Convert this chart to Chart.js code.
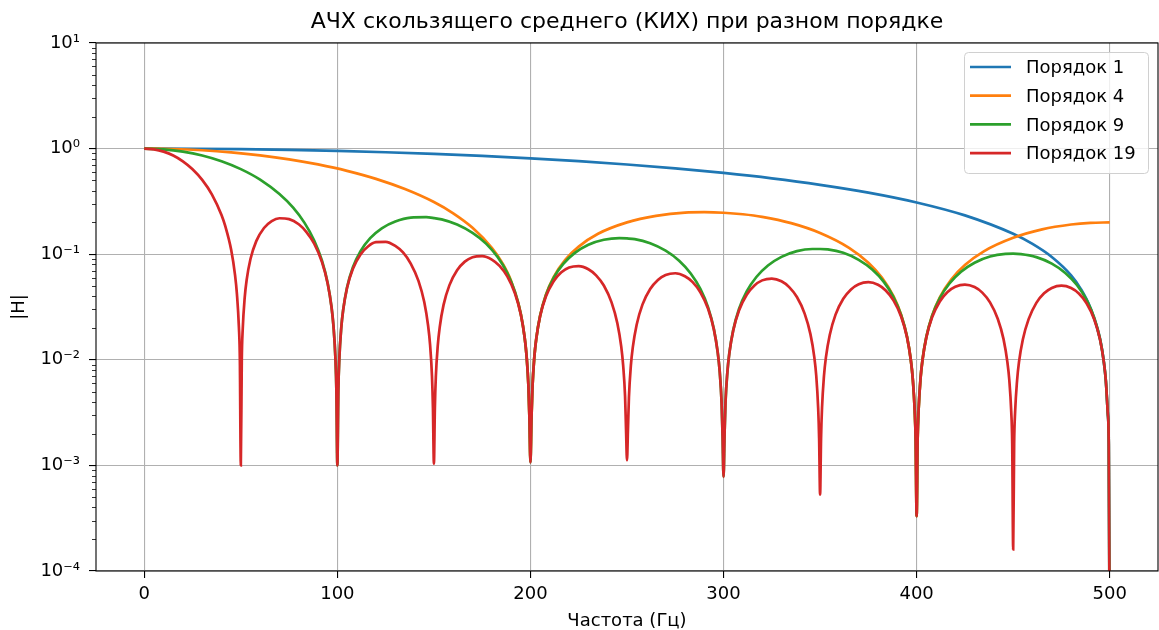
<!DOCTYPE html>
<html>
<head>
<meta charset="utf-8">
<script src="https://cdn.jsdelivr.net/npm/chart.js@4"></script>
<style>
  html, body { margin: 0; padding: 0; background: #fff; }
  #wrap { width: 1159px; height: 630px; }
</style>
</head>
<body>
<div id="wrap"><canvas id="chart" width="1159" height="630"></canvas></div>
<script>
const seriesLabels = ['Порядок 1', 'Порядок 4', 'Порядок 9', 'Порядок 19'];
const seriesColors = ['#1f77b4', '#ff7f0e', '#2ca02c', '#d62728'];
const xTicks = [0, 100, 200, 300, 400, 500];
const yTicks = [1e-4, 1e-3, 1e-2, 1e-1, 1, 10];

// Порядок 1
const freq1 = [0, 25, 50, 75, 100, 125, 150, 175, 200, 225, 250, 275, 300, 325, 350, 375, 400, 425, 450, 460,
  470, 480, 485, 490, 495, 497, 498, 499, 499.5, 500];
const mag1 = [1.0, 0.997, 0.988, 0.972, 0.951, 0.924, 0.891, 0.853, 0.809, 0.760, 0.707, 0.649, 0.588, 0.523, 0.454, 0.383, 0.309, 0.233, 0.156, 0.125,
  0.094, 0.063, 0.047, 0.031, 0.0157, 0.0094, 0.0063, 0.0031, 0.0016, 0.00001];

// Порядок 4
const freq4 = [0, 15, 30, 45, 60, 75, 90, 105, 120, 135, 150, 160, 170, 180, 185, 190, 195, 197, 198, 199, 199.5, 200,
  200.5, 201, 202, 203, 205, 208, 212, 218, 225, 235, 250, 265, 280, 290, 300, 310, 320, 335, 350, 365,
  375, 382, 388, 392, 395, 397, 398, 399, 399.5, 400,
  400.5, 401, 402, 403, 405, 408, 412, 418, 425, 435, 450, 465, 480, 490, 500];
const mag4 = [1.0, 0.991, 0.965, 0.922, 0.864, 0.792, 0.708, 0.616, 0.517, 0.414, 0.312, 0.244, 0.178, 0.115, 0.085, 0.0557, 0.0273, 0.0162, 0.0108, 0.0054, 0.0027, 0.0011,
  0.0027, 0.0053, 0.0106, 0.0158, 0.0262, 0.0413, 0.0608, 0.0885, 0.118, 0.156, 0.2, 0.231, 0.248, 0.25, 0.247, 0.239, 0.226, 0.197, 0.159, 0.115,
  0.0831, 0.06, 0.04, 0.0266, 0.0166, 0.0099, 0.0066, 0.0033, 0.0017, 0.00033,
  0.0017, 0.0033, 0.0066, 0.0099, 0.0164, 0.0262, 0.0391, 0.0579, 0.079, 0.107, 0.143, 0.172, 0.191, 0.198, 0.2];

// Порядок 9
const freq9 = [0, 10, 20, 30, 40, 50, 60, 70, 77, 83, 88, 92, 95, 97, 98, 99, 99.5, 100,
  100.5, 101, 102, 103, 105, 108, 112, 117, 123, 130, 138, 146, 150, 154, 162, 170, 177, 183, 188, 192, 195, 197, 198, 199, 199.5, 200,
  200.5, 201, 202, 203, 205, 208, 212, 217, 223, 230, 238, 246, 250, 254, 262, 270, 277, 283, 288, 292, 295, 297, 298, 299, 299.5, 300,
  300.5, 301, 302, 303, 305, 308, 312, 317, 323, 330, 338, 346, 350, 354, 362, 370, 377, 383, 388, 392, 395, 397, 398, 399, 399.5, 400,
  400.5, 401, 402, 403, 405, 408, 412, 417, 423, 430, 438, 446, 450, 454, 462, 470, 477, 483, 488, 492, 495, 497, 498, 499, 499.5, 500];
const mag9 = [1.0, 0.984, 0.936, 0.86, 0.759, 0.639, 0.508, 0.371, 0.277, 0.198, 0.135, 0.0874, 0.0532, 0.0314, 0.0207, 0.0103, 0.0051, 0.001,
  0.0051, 0.0101, 0.02, 0.0296, 0.0484, 0.0749, 0.107, 0.142, 0.176, 0.204, 0.222, 0.224, 0.22, 0.2135, 0.191, 0.159, 0.126, 0.0939, 0.0662, 0.0439, 0.0272, 0.0162, 0.0108, 0.0054, 0.0027, 0.00107,
  0.0027, 0.0053, 0.0106, 0.0158, 0.0261, 0.041, 0.0597, 0.081, 0.103, 0.123, 0.137, 0.142, 0.141, 0.139, 0.127, 0.108, 0.0868, 0.0657, 0.0469, 0.0314, 0.0196, 0.0117, 0.0078, 0.0039, 0.0019, 0.00078,
  0.0019, 0.0039, 0.0077, 0.0116, 0.0191, 0.0303, 0.0444, 0.0608, 0.0781, 0.0943, 0.107, 0.112, 0.112, 0.111, 0.103, 0.0884, 0.0716, 0.0547, 0.0393, 0.0264, 0.0166, 0.0099, 0.0066, 0.0033, 0.0017, 0.00033,
  0.0017, 0.0033, 0.0066, 0.0099, 0.0164, 0.026, 0.0384, 0.0528, 0.0683, 0.0831, 0.095, 0.1007, 0.1012, 0.1003, 0.0939, 0.0815, 0.0665, 0.0511, 0.0369, 0.0249, 0.0157, 0.0094, 0.0063, 0.0031, 0.0016, 0.00001];

// Порядок 19
const freq19 = [0, 5, 10, 15, 20, 25, 30, 35, 40, 42, 45, 47, 48, 49, 49.5, 50,
  50.5, 51, 52, 53, 55, 58, 62, 66, 70, 75, 80, 84, 88, 92, 95, 97, 98, 99, 99.5, 100,
  100.5, 101, 102, 103, 105, 108, 112, 116, 120, 125, 130, 134, 138, 142, 145, 147, 148, 149, 149.5, 150,
  150.5, 151, 152, 153, 155, 158, 162, 166, 170, 175, 180, 184, 188, 192, 195, 197, 198, 199, 199.5, 200,
  200.5, 201, 202, 203, 205, 208, 212, 216, 220, 225, 230, 234, 238, 242, 245, 247, 248, 249, 249.5, 250,
  250.5, 251, 252, 253, 255, 258, 262, 266, 270, 275, 280, 284, 288, 292, 295, 297, 298, 299, 299.5, 300,
  300.5, 301, 302, 303, 305, 308, 312, 316, 320, 325, 330, 334, 338, 342, 345, 347, 348, 349, 349.5, 350,
  350.5, 351, 352, 353, 355, 358, 362, 366, 370, 375, 380, 384, 388, 392, 395, 397, 398, 399, 399.5, 400,
  400.5, 401, 402, 403, 405, 408, 412, 416, 420, 425, 430, 434, 438, 442, 445, 447, 448, 449, 449.5, 450,
  450.5, 451, 452, 453, 455, 458, 462, 466, 470, 475, 480, 484, 488, 492, 495, 497, 498, 499, 499.5, 500];
const mag19 = [1.0, 0.984, 0.936, 0.859, 0.757, 0.637, 0.505, 0.369, 0.235, 0.183, 0.110, 0.0637, 0.0417, 0.0205, 0.0101, 0.001,
  0.0099, 0.0197, 0.0385, 0.0566, 0.090, 0.133, 0.177, 0.206, 0.219, 0.215, 0.192, 0.162, 0.126, 0.0846, 0.0526, 0.0313, 0.0207, 0.0103, 0.0051, 0.001,
  0.0051, 0.0101, 0.0199, 0.0295, 0.0478, 0.0725, 0.0995, 0.119, 0.130, 0.131, 0.120, 0.104, 0.0816, 0.0559, 0.0352, 0.021, 0.014, 0.007, 0.0035, 0.00104,
  0.0035, 0.0069, 0.0136, 0.0203, 0.0331, 0.0507, 0.0704, 0.085, 0.0937, 0.096, 0.089, 0.0775, 0.0616, 0.0425, 0.0269, 0.0162, 0.0108, 0.0054, 0.0027, 0.00107,
  0.0027, 0.0053, 0.0106, 0.0158, 0.0258, 0.0397, 0.0555, 0.0674, 0.0748, 0.0772, 0.0721, 0.0631, 0.0505, 0.035, 0.0222, 0.0134, 0.0089, 0.0045, 0.0022, 0.00112,
  0.0022, 0.0044, 0.0088, 0.0131, 0.0215, 0.0333, 0.0468, 0.0571, 0.0636, 0.066, 0.0619, 0.0544, 0.0436, 0.0304, 0.0193, 0.0117, 0.0078, 0.0039, 0.0019, 0.00078,
  0.0019, 0.0039, 0.0077, 0.0115, 0.0189, 0.0293, 0.0413, 0.0505, 0.0565, 0.0588, 0.0554, 0.0488, 0.0393, 0.0274, 0.0175, 0.0106, 0.0071, 0.0035, 0.0018, 0.00053,
  0.0018, 0.0035, 0.007, 0.0105, 0.0172, 0.0268, 0.0378, 0.0464, 0.052, 0.0543, 0.0513, 0.0453, 0.0365, 0.0256, 0.0164, 0.0099, 0.0066, 0.0033, 0.0017, 0.00033,
  0.0017, 0.0033, 0.0066, 0.0098, 0.0162, 0.0252, 0.0357, 0.0439, 0.0492, 0.0516, 0.0489, 0.0433, 0.035, 0.0245, 0.0157, 0.0095, 0.0064, 0.0032, 0.0016, 0.00016,
  0.0016, 0.0032, 0.0063, 0.0095, 0.0156, 0.0243, 0.0346, 0.0426, 0.0479, 0.0503, 0.0478, 0.0424, 0.0343, 0.0241, 0.0155, 0.0094, 0.0063, 0.0031, 0.0016, 0.00001];

const freqs = [freq1, freq4, freq9, freq19];
const mags = [mag1, mag4, mag9, mag19];

Chart.defaults.font.family = "'DejaVu Sans', sans-serif";
Chart.defaults.font.size = 18;
Chart.defaults.color = '#000';

const supDigits = { '0': '⁰', '1': '¹', '2': '²', '3': '³', '4': '⁴', '5': '⁵', '6': '⁶', '7': '⁷', '8': '⁸', '9': '⁹', '-': '⁻' };
function powLabel(v) {
  const e = String(Math.round(Math.log10(v)));
  return '10' + e.split('').map(c => supDigits[c]).join('');
}

// рамка вокруг области графика (как spines в matplotlib)
const framePlugin = {
  id: 'frame',
  afterDatasetsDraw(chart) {
    const { ctx, chartArea: a } = chart;
    ctx.save();
    ctx.strokeStyle = '#000';
    ctx.lineWidth = 1.1;
    ctx.strokeRect(a.left, a.top, a.right - a.left, a.bottom - a.top);
    ctx.restore();
  }
};

// малые деления логарифмической оси
const minorTicksPlugin = {
  id: 'minorTicks',
  afterDraw(chart) {
    const { ctx } = chart;
    const y = chart.scales.y;
    ctx.save();
    ctx.strokeStyle = '#000';
    ctx.lineWidth = 0.8;
    for (let k = -4; k < 1; k++) {
      for (let m = 2; m <= 9; m++) {
        const py = Math.round(y.getPixelForValue(m * Math.pow(10, k))) + 0.5;
        ctx.beginPath();
        ctx.moveTo(y.right - 4, py);
        ctx.lineTo(y.right, py);
        ctx.stroke();
      }
    }
    ctx.restore();
  }
};

// легенда в правом верхнем углу внутри осей
const boxLegendPlugin = {
  id: 'boxLegend',
  afterDraw(chart) {
    const { ctx, chartArea: a } = chart;
    const w = 184, h = 121, r = 4;
    const x0 = a.right - 10 - w, y0 = a.top + 9;
    ctx.save();
    ctx.beginPath();
    ctx.roundRect(x0 + 0.5, y0 + 0.5, w, h, r);
    ctx.fillStyle = 'rgba(255,255,255,0.8)';
    ctx.fill();
    ctx.strokeStyle = '#d0d0d0';
    ctx.lineWidth = 1;
    ctx.stroke();
    ctx.font = "18px 'DejaVu Sans', sans-serif";
    ctx.textBaseline = 'middle';
    ctx.textAlign = 'left';
    chart.data.datasets.forEach((ds, i) => {
      const ry = y0 + 15 + i * 28.7;
      ctx.strokeStyle = ds.borderColor;
      ctx.lineWidth = 2.7;
      ctx.beginPath();
      ctx.moveTo(x0 + 6, ry);
      ctx.lineTo(x0 + 47, ry);
      ctx.stroke();
      ctx.fillStyle = '#000';
      ctx.fillText(ds.label, x0 + 62, ry + 1.5);
    });
    ctx.restore();
  }
};

const datasets = seriesLabels.map((label, i) => ({
  label: label,
  data: freqs[i].map((f, j) => ({ x: f, y: mags[i][j] })),
  borderColor: seriesColors[i],
  backgroundColor: seriesColors[i],
  borderWidth: 2.7,
  pointRadius: 0,
  fill: false,
  cubicInterpolationMode: 'monotone',
  order: seriesLabels.length - i
}));

const ctx = document.getElementById('chart').getContext('2d');
const chart = new Chart(ctx, {
  type: 'line',
  data: { datasets: datasets },
  plugins: [framePlugin, minorTicksPlugin, boxLegendPlugin],
  options: {
    responsive: false,
    animation: false,
    devicePixelRatio: 1,
    layout: { padding: { left: 0, right: 1, top: 0, bottom: 0 } },
    plugins: {
      legend: { display: false },
      tooltip: { enabled: false },
      title: {
        display: true,
        text: 'АЧХ скользящего среднего (КИХ) при разном порядке',
        fullSize: false,
        color: '#000',
        font: { size: 22, weight: 'normal' },
        padding: { top: 9, bottom: 7.6 }
      }
    },
    scales: {
      x: {
        type: 'linear',
        min: -25,
        max: 525,
        afterBuildTicks: axis => { axis.ticks = xTicks.map(v => ({ value: v })); },
        afterFit: s => { s.height = 59; },
        ticks: { color: '#000', font: { size: 18 }, padding: 6, maxRotation: 0, autoSkip: false },
        grid: { color: '#b0b0b0', lineWidth: 1.1, tickLength: 7, tickColor: '#000', tickWidth: 1.1 },
        border: { display: false },
        title: { display: true, text: 'Частота (Гц)', color: '#000', font: { size: 18 }, padding: { top: 0, bottom: -2 } }
      },
      y: {
        type: 'logarithmic',
        min: 1e-4,
        max: 10,
        afterBuildTicks: axis => { axis.ticks = yTicks.map(v => ({ value: v })); },
        afterFit: s => { s.width = 96; },
        ticks: { color: '#000', font: { size: 18 }, padding: 9, autoSkip: false, callback: v => powLabel(v) },
        grid: { color: '#b0b0b0', lineWidth: 1.1, tickLength: 7, tickColor: '#000', tickWidth: 1.1 },
        border: { display: false },
        title: { display: true, text: '|H|', color: '#000', font: { size: 18 }, padding: { top: 9, bottom: 0 } }
      }
    }
  }
});
</script>
</body>
</html>
